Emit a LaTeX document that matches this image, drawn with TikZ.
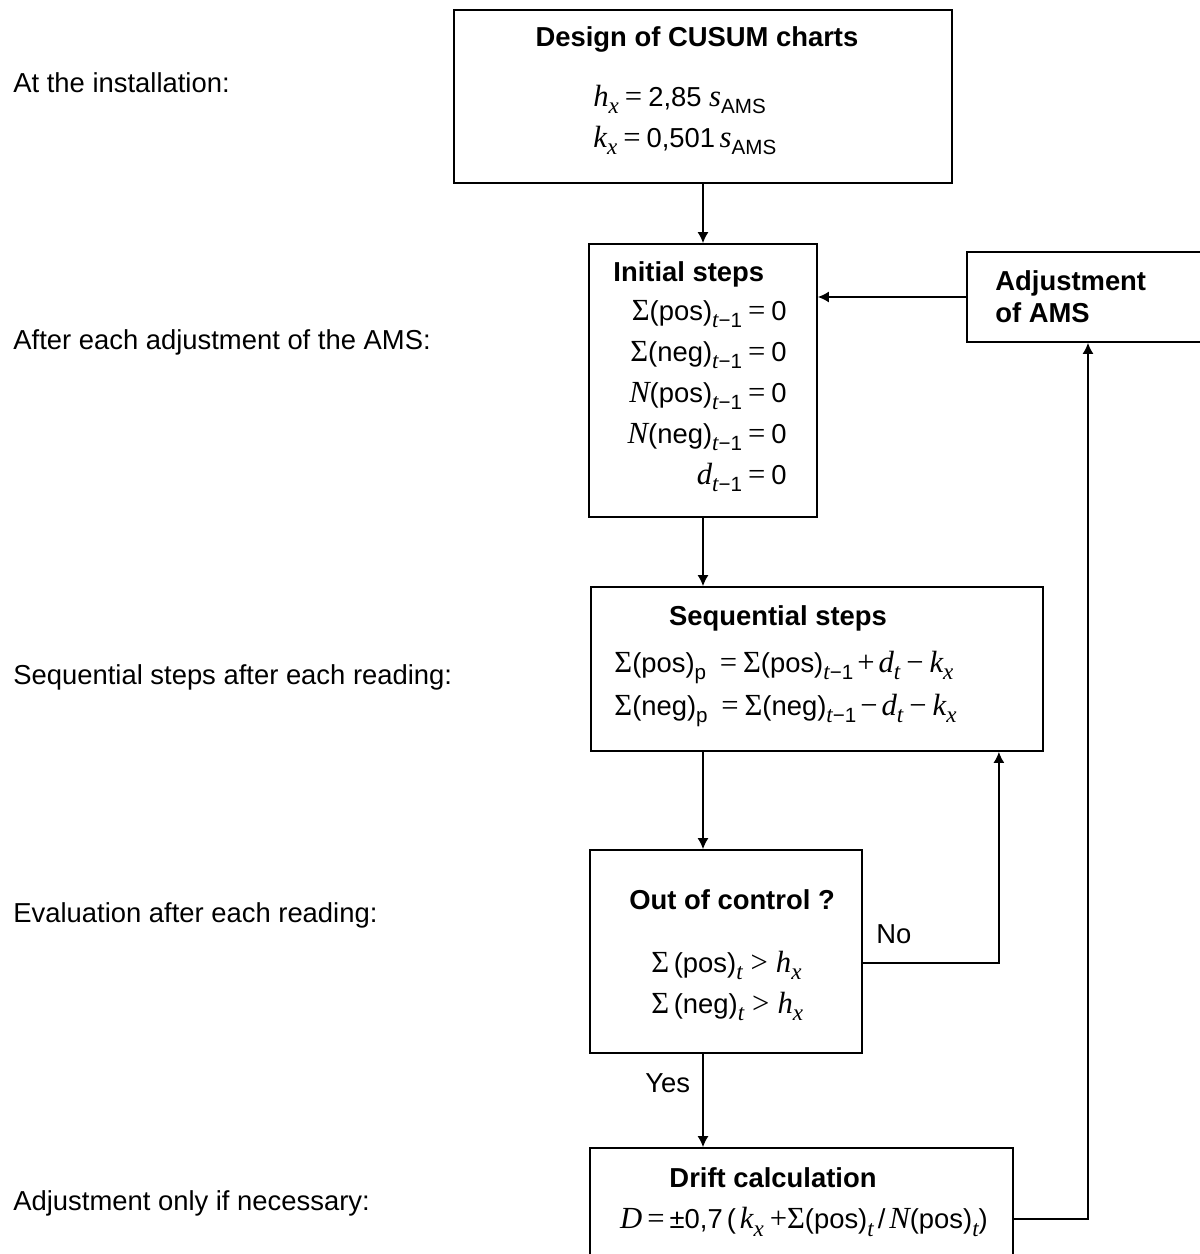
\documentclass[tikz,border=0pt]{standalone}
\usepackage{fontspec}
\usetikzlibrary{arrows.meta}
\setmainfont{Liberation Sans}
\newfontfamily\tmsfont[Scale=1.12]{Liberation Serif}
\newcommand{\mv}[1]{{\tmsfont\itshape #1}}
\newcommand{\lo}[1]{\raisebox{-3.6pt}{\fontsize{10.3}{10}\selectfont #1}}
\newcommand{\eqs}{\hspace{3pt}{\tmsfont =}\hspace{3pt}}
\newcommand{\sgm}{{\tmsfont Σ}}
\begin{document}
\begin{tikzpicture}[x=0.5pt, y=-0.5pt,
  every node/.style={font=\fontsize{13.7}{20.5}\selectfont, inner sep=0pt},
  box/.style={draw, line width=0.9pt},
  ttl/.style={font=\fontsize{13.7}{16}\selectfont\bfseries},
  arr/.style={line width=0.7pt, -{Latex[length=5.5pt,width=5.5pt]}}]
  \path[fill=white, use as bounding box] (0,0) rectangle (1200,1254);

  % stage labels on the left
  \node[anchor=west] (lab1) at (13,83) {At the installation:};
  \node[anchor=west] (lab2) at (13,342) {After each adjustment of the AMS:};
  \node[anchor=west] (lab3) at (13,677) {Sequential steps after each reading:};
  \node[anchor=west] (lab4) at (13,915) {Evaluation after each reading:};
  \node[anchor=west] (lab5) at (13,1203) {Adjustment only if necessary:};

  % boxes
  \node[box, minimum width=249pt, minimum height=86.5pt] (design) at (703,96.5) {};
  \node[box, minimum width=114pt, minimum height=136.5pt] (init) at (703,380.5) {};
  \node[box, minimum width=136.5pt, minimum height=45pt] (adjust) at (1103.5,297) {};
  \node[box, minimum width=226pt, minimum height=82pt] (seq) at (817,669) {};
  \node[box, minimum width=136pt, minimum height=101.5pt] (outc) at (726,951.5) {};
  \node[box, minimum width=211.5pt, minimum height=71pt] (drift) at (801.5,1219) {};

  % design
  \node[ttl] (designT) at (697,39) {Design of CUSUM charts};
  \node[anchor=west, align=left] (designE) at (593,120)
    {\mv{h}\lo{\mv{x}}\eqs 2,85 \mv{s}\lo{AMS}\\
     \mv{k}\lo{\mv{x}}\eqs 0,501\,\mv{s}\lo{AMS}};

  % initial steps
  \node[ttl, anchor=west] (initT) at (613,274) {Initial steps};
  \node[anchor=east, align=right] (initE) at (787,396)
    {\sgm(pos)\lo{\mv{t}−1}\eqs 0\\
     \sgm(neg)\lo{\mv{t}−1}\eqs 0\\
     \mv{N}(pos)\lo{\mv{t}−1}\eqs 0\\
     \mv{N}(neg)\lo{\mv{t}−1}\eqs 0\\
     \mv{d}\lo{\mv{t}−1}\eqs 0};

  % adjustment
  \node[ttl, anchor=west, align=left] (adjustT) at (995,297) {Adjustment\\of AMS};

  % sequential steps
  \node[ttl] (seqT) at (778,618) {Sequential steps};
  \node[anchor=west, align=left] (seqE) at (614,689)
    {\sgm(pos)\lo{p} \eqs\sgm(pos)\lo{\mv{t}−1}\hspace{2pt}{\tmsfont +}\hspace{2pt}\mv{d}\lo{\mv{t}}\hspace{3pt}{\tmsfont −}\hspace{3pt}\mv{k}\lo{\mv{x}}\\[1pt]
     \sgm(neg)\lo{p} \eqs\sgm(neg)\lo{\mv{t}−1}\hspace{2pt}{\tmsfont −}\hspace{2pt}\mv{d}\lo{\mv{t}}\hspace{3pt}{\tmsfont −}\hspace{3pt}\mv{k}\lo{\mv{x}}};

  % evaluation
  \node[ttl] (outcT) at (732,900) {Out of control ?};
  \node[anchor=west, align=left] (outcE) at (651,986)
    {\sgm\,(pos)\lo{\mv{t}}\hspace{4pt}{\tmsfont >}\hspace{4pt}\mv{h}\lo{\mv{x}}\\
     \sgm\,(neg)\lo{\mv{t}}\hspace{4pt}{\tmsfont >}\hspace{4pt}\mv{h}\lo{\mv{x}}};

  % drift
  \node[ttl] (driftT) at (773,1178) {Drift calculation};
  \node (driftE) at (804,1222)
    {\mv{D}\hspace{2.5pt}{\tmsfont =}\hspace{2.5pt}±0,7\hspace{2pt}(\hspace{2pt}\mv{k}\lo{\mv{x}}\hspace{3pt}{\tmsfont +}\sgm(pos)\lo{\mv{t}}\hspace{2pt}/\hspace{2pt}\mv{N}(pos)\lo{\mv{t}})};

  % connectors
  \draw[arr] (design.south) -- (init.north);
  \draw[arr] (init.south) -- (init.south |- seq.north);
  \draw[arr] (init.south |- seq.south) -- (init.south |- outc.north);
  \draw[arr] (init.south |- outc.south) -- (init.south |- drift.north);
  \draw[arr] ([yshift=-5.75pt]outc.east) -| ([xshift=-22.5pt]seq.south east);
  \draw[arr] (drift.east) -| ([xshift=-7.75pt]adjust.south);
  \draw[arr] (adjust.west) -- (adjust.west -| init.east);

  \node[anchor=west] (no) at (876,934) {No};
  \node[anchor=west] (yes) at (645,1083) {Yes};
\end{tikzpicture}
\end{document}
